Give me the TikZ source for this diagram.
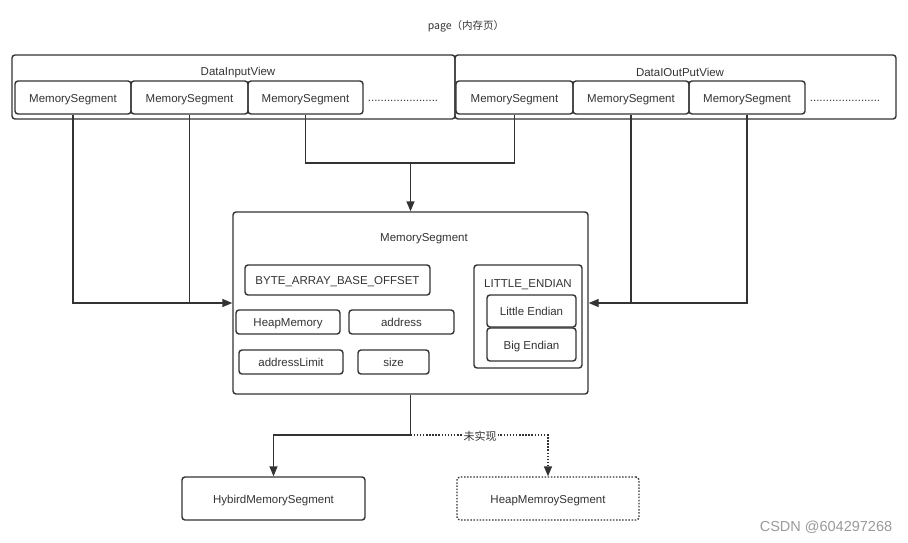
\documentclass[tikz,border=0pt]{standalone}
\usepackage{fontspec}
\setmainfont{Liberation Sans}
\newfontfamily\cjk{Noto Sans CJK SC}
\usetikzlibrary{arrows.meta}
\definecolor{lc}{HTML}{333333}
\definecolor{tc}{HTML}{333333}
\definecolor{wm}{HTML}{9A9A9A}
\begin{document}
\begin{tikzpicture}[x=1pt,y=-1pt,
  box/.style={draw=lc, line width=1.4pt, rounded corners=3pt, inner sep=0pt,
    font=\fontsize{11.5}{13}\selectfont, text=tc, text height=10pt, text depth=0.5pt},
  lbl/.style={inner sep=0pt, font=\fontsize{11.5}{13}\selectfont, text=tc},
  conn/.style={draw=lc, line width=1.4pt},
  arr/.style={conn, -{Triangle[length=10pt,width=8pt]}},
  dots/.style={dash pattern=on 1.5pt off 1.6pt}]
\useasboundingbox (0,0) rectangle (908,542);

\node[lbl, font=\cjk\fontsize{10.5}{12}\selectfont] (title) at (466,26) {page（内存页）};

% views
\node[box, minimum width=443pt, minimum height=64pt] (inview) at (233.5,87) {};
\node[box, minimum width=441pt, minimum height=64pt] (outview) at (675.5,87) {};
\node[lbl] (inlbl) at (238,72.5) {DataInputView};
\node[lbl] (outlbl) at (680,72.5) {DataIOutPutView};

% segments
\node[box, minimum width=116pt, minimum height=33pt] (i1) at (73,97.5) {MemorySegment};
\node[box, minimum width=117pt, minimum height=33pt] (i2) at (189.5,97.5) {MemorySegment};
\node[box, minimum width=115pt, minimum height=33pt] (i3) at (305.5,97.5) {MemorySegment};
\node[lbl] (idots) at (403,100.5) {......................};
\node[box, minimum width=117pt, minimum height=33pt] (o1) at (514.5,97.5) {MemorySegment};
\node[box, minimum width=116pt, minimum height=33pt] (o2) at (631,97.5) {MemorySegment};
\node[box, minimum width=116pt, minimum height=33pt] (o3) at (747,97.5) {MemorySegment};
\node[lbl] (odots) at (845,100.5) {......................};

% main segment
\node[box, minimum width=355pt, minimum height=182pt] (mseg) at (410.5,303) {};
\node[lbl] (mlbl) at (424,238.5) {MemorySegment};
\node[box, minimum width=185pt, minimum height=30pt] (byte) at (337.5,280) {BYTE\_ARRAY\_BASE\_OFFSET};
\node[box, minimum width=104pt, minimum height=24pt] (heapm) at (288,322) {HeapMemory};
\node[box, minimum width=105pt, minimum height=24pt] (addr) at (401.5,322) {address};
\node[box, minimum width=104pt, minimum height=24pt] (addrl) at (291,362) {addressLimit};
\node[box, minimum width=71pt, minimum height=24pt] (size) at (393.5,362) {size};
\node[box, minimum width=108pt, minimum height=103pt] (le) at (528,316.5) {};
\node[lbl] (lelbl) at (528,284.5) {LITTLE\_ENDIAN};
\node[box, minimum width=89pt, minimum height=32pt] (little) at (531.5,311) {Little Endian};
\node[box, minimum width=89pt, minimum height=33pt] (big) at (531.5,344.5) {Big Endian};

% bottom
\node[box, minimum width=183pt, minimum height=43pt] (hyb) at (273.5,498.5) {HybirdMemorySegment};
\node[box, dots, minimum width=182pt, minimum height=43pt] (heap) at (548,498.5) {HeapMemroySegment};

% connectors
\coordinate (top) at (410.5,163);
\coordinate (bot) at (410.5,435);
\draw[arr] (i1.south) |- (mseg.west);
\draw[conn] (i2.south) -- (i2.south |- mseg.west);
\draw[conn] (i3.south) |- (top) -| (o1.south);
\draw[arr] (top) -- (mseg.north);
\draw[arr] (o3.south) |- (mseg.east);
\draw[conn] (o2.south) -- (o2.south |- mseg.east);
\draw[arr] (mseg.south) -- (bot) -| (hyb.north);
\draw[arr, dots] (bot) -| (heap.north);
\node[lbl, fill=white, inner sep=1pt, font=\cjk\fontsize{11}{12}\selectfont] (nimp) at (480,436.5) {未实现};

\node[lbl, text=wm, font=\fontsize{14.5}{16}\selectfont] (wmk) at (826,527.5) {CSDN @604297268};
\end{tikzpicture}
\end{document}
